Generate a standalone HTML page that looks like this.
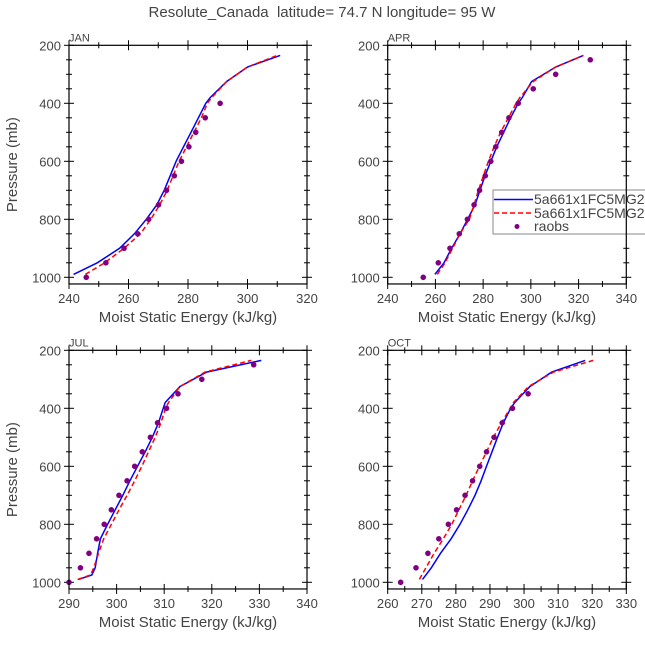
<!DOCTYPE html>
<html><head><meta charset="utf-8"><style>
html,body{margin:0;padding:0;background:#fff;}
svg text{font-family:"Liberation Sans","DejaVu Sans",sans-serif;fill:#444;white-space:pre;}
</style></head><body>
<svg id="c" width="645" height="640" xmlns="http://www.w3.org/2000/svg">
<text x="322" y="17" text-anchor="middle" font-size="15" xml:space="preserve">Resolute_Canada  latitude= 74.7 N longitude= 95 W</text>
</svg>
<script>
const modelP=[990,950,900,850,800,750,700,650,600,550,500,450,400,380,325,275,235];
const obsP=[1000,950,900,850,800,750,700,650,600,550,500,450,400,350,300,250];
const janBlue=[241.5,249.5,257,262,266,269.5,272,274,276,278.5,281,283.5,286,287.5,293,300,311];
const janRed=[245.5,252,258.5,264,267.5,270.5,273,275,277,279.5,282,284.5,286.5,288,293,300,310];
const janObs=[245.8,252.4,258.5,263.1,266.8,270.1,272.8,275.4,277.8,280.3,282.6,285.8,290.8];
const aprBlue=[259.8,263.6,266.8,270.3,273.5,276.6,278.7,280.8,283.2,285.7,288.6,291.5,294.7,296.4,300.3,310.4,322];
const aprRed=[260.8,264,267.2,270.3,274.2,276.2,278,280.1,282.2,284.6,287.3,290.6,293.8,295.4,301,310.4,322];
const aprObs=[254.9,261.2,266.1,270,273.4,276.2,278.5,280.9,283.2,285.3,287.8,290.8,294.7,301,310.4,324.9];
const julP=[990,975,950,900,850,800,750,700,650,600,550,500,450,400,380,325,275,235];
const julBlue=[292,294.8,295.5,296,296.6,298.1,299.7,301.3,302.8,304.4,306,307.5,308.8,309.8,310.2,313.3,318.9,330.4];
const julRed=[291.8,294.5,295.2,296.2,297.3,298.9,300.5,302.2,303.8,305.3,306.7,308.1,309.3,310.3,310.9,313.3,318.6,328.3];
const julObs=[290,292.4,294.2,295.8,297.4,298.9,300.5,302.2,303.8,305.4,307.1,308.6,310.5,312.9,317.9,328.8];
const octBlue=[270.2,272.8,275.5,278.6,281.2,283.5,285.6,287.4,289,290.6,292.2,293.9,296.1,297.3,301.7,308.1,317.9];
const octRed=[269.3,271.2,273.6,276.3,278.8,280.9,283,284.9,286.9,289,291,293.4,295.9,296.9,301.3,308.6,320.3];
const octObs=[263.8,268.3,271.8,275,277.8,280.2,282.7,284.9,287,289,291.2,293.6,296.6,301.2];
const panels=[
 {name:'jan',label:'JAN',x0:69,x1:307,y0:45.3,xmin:240,xmax:320,maj:20,mnr:10,p:modelP,b:janBlue,r:janRed,o:janObs,ylab:true},
 {name:'apr',label:'APR',x0:387.7,x1:626.3,y0:45.3,xmin:240,xmax:340,maj:20,mnr:10,p:modelP,b:aprBlue,r:aprRed,o:aprObs,ylab:false},
 {name:'jul',label:'JUL',x0:69,x1:307,y0:350.3,xmin:290,xmax:340,maj:10,mnr:5,p:julP,b:julBlue,r:julRed,o:julObs,ylab:true},
 {name:'oct',label:'OCT',x0:387.7,x1:626.3,y0:350.3,xmin:260,xmax:330,maj:10,mnr:5,p:modelP,b:octBlue,r:octRed,o:octObs,ylab:false}
];
const NS='http://www.w3.org/2000/svg';
const svg=document.getElementById('c');
function mk(t,a,parent){const e=document.createElementNS(NS,t);for(const k in a)e.setAttribute(k,a[k]);(parent||svg).appendChild(e);return e;}
panels.forEach(pn=>{
 const g=mk('g',{});
 
 
 const sy=232/800;
 const X=v=>pn.x0+(v-pn.xmin)*(pn.x1-pn.x0)/(pn.xmax-pn.xmin);
 const Y=p=>pn.y0+(p-200)*sy;
 const yb=Y(1023);
 const lbl=mk('text',{x:pn.x0,y:pn.y0-4,'font-size':11},g);lbl.textContent=pn.label;
 
 
 for(let p=200;p<=1000;p+=50){
  const maj=p%200===0, L=maj?5:3;
  mk('line',{x1:pn.x0-L,x2:pn.x0+L,y1:Y(p),y2:Y(p),stroke:'#000','stroke-width':1},g);
  mk('line',{x1:pn.x1-L,x2:pn.x1+L,y1:Y(p),y2:Y(p),stroke:'#000','stroke-width':1},g);
  if(maj){const t=mk('text',{x:pn.x0-8,y:Y(p)+5,'text-anchor':'end','font-size':13},g);t.textContent=p;
   
   }
 }
 for(let v=pn.xmin;v<=pn.xmax+0.01;v+=pn.mnr){
  const maj=Math.abs((v-pn.xmin)%pn.maj)<0.01, L=maj?5:3;
  mk('line',{x1:X(v),x2:X(v),y1:yb-L,y2:yb+L,stroke:'#000','stroke-width':1},g);
  mk('line',{x1:X(v),x2:X(v),y1:pn.y0-L,y2:pn.y0+L,stroke:'#000','stroke-width':1},g);
  if(maj){const t=mk('text',{x:X(v),y:yb+19,'text-anchor':'middle','font-size':13},g);t.textContent=v;
   
   }
 }
 const xt=mk('text',{x:(pn.x0+pn.x1)/2,y:yb+38,'text-anchor':'middle','font-size':15},g);xt.textContent='Moist Static Energy (kJ/kg)';
 
 
 if(pn.ylab){const yt=mk('text',{x:0,y:0,'text-anchor':'middle','font-size':15,transform:`translate(17,${(pn.y0+yb)/2}) rotate(-90)`},g);yt.textContent='Pressure (mb)';
  
  }
 const pts=a=>a.map((v,i)=>X(v).toFixed(1)+','+Y(pn.p[i]).toFixed(1)).join(' ');
 const bl=mk('polyline',{points:pts(pn.b),fill:'none',stroke:'#0000ff','stroke-width':1.5},g);
 
 
 const rl=mk('polyline',{points:pts(pn.r),fill:'none',stroke:'#ff0000','stroke-width':1.5,'stroke-dasharray':'5,3'},g);
 
 
 pn.o.forEach((v,i)=>{const c=mk('circle',{cx:X(v),cy:Y(obsP[i]),r:2.8,fill:'#800080'},g);
  
  });
 if(pn.name==='apr'){
  const lg=mk('g',{},g);
  
  
  mk('rect',{x:493,y:190,width:160,height:44,fill:'#fff',stroke:'#888','stroke-width':1},lg);
  mk('line',{x1:494,x2:533,y1:199.5,y2:199.5,stroke:'#0000ff','stroke-width':1.5},lg);
  mk('line',{x1:494,x2:533,y1:213,y2:213,stroke:'#ff0000','stroke-width':1.5,'stroke-dasharray':'5,3'},lg);
  mk('circle',{cx:517,cy:226.5,r:2.5,fill:'#800080'},lg);
  [['5a661x1FC5MG2',204],['5a661x1FC5MG2',218],['raobs',231]].forEach((d,i)=>{
   const t=mk('text',{x:534,y:d[1],'font-size':14},lg);t.textContent=d[0];
   
   });
 }
 const fr=mk('rect',{x:pn.x0,y:pn.y0,width:pn.x1-pn.x0,height:yb-pn.y0,fill:'none',stroke:'#000','stroke-width':1.2},g);
 
 
});
</script>
</body></html>
